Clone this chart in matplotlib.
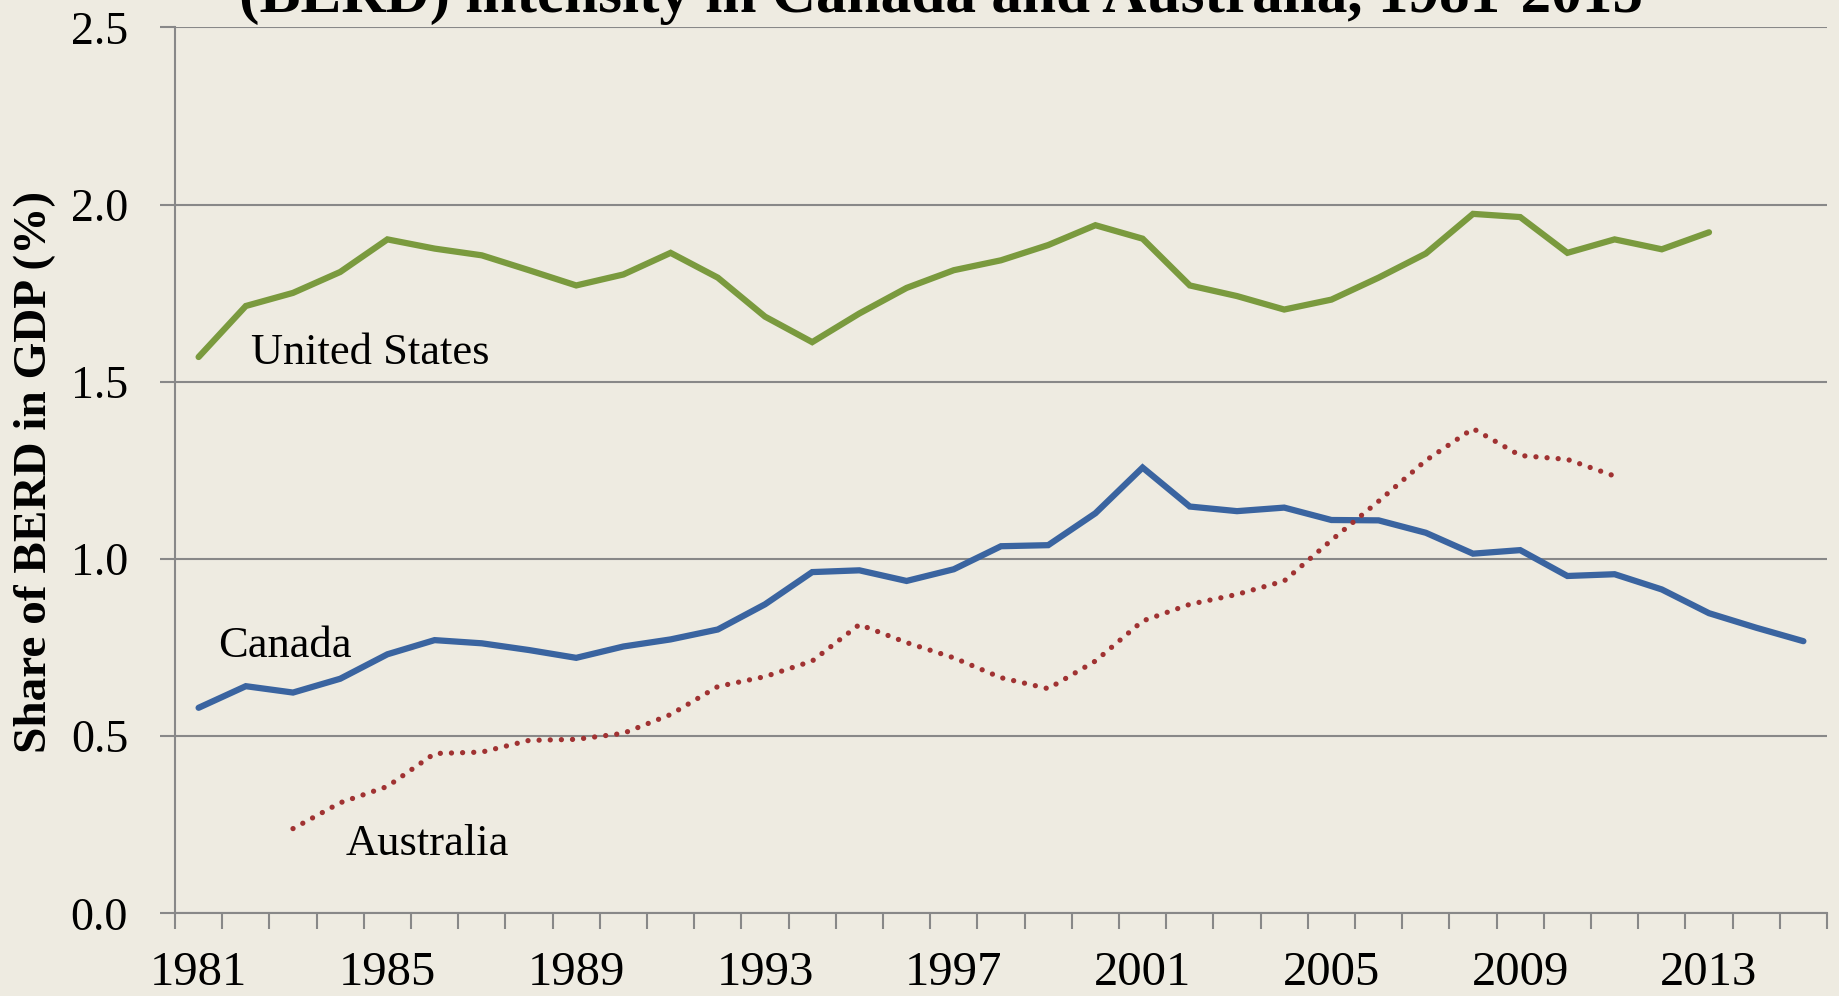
import numpy as np
import matplotlib
matplotlib.use("Agg")
import matplotlib.pyplot as plt
from matplotlib.ticker import FixedLocator, NullFormatter, FixedFormatter

# ---------------- data ----------------
years = list(range(1981, 2016))
nan = np.nan
us = [1.570, 1.714, 1.751, 1.810, 1.902, 1.876, 1.857, 1.815, 1.772, 1.803,
      1.864, 1.794, 1.684, 1.612, 1.693, 1.765, 1.815, 1.843, 1.886, 1.942,
      1.904, 1.772, 1.742, 1.704, 1.732, 1.794, 1.862, 1.974, 1.965, 1.864,
      1.902, 1.874, 1.922, nan, nan]
canada = [0.580, 0.641, 0.623, 0.662, 0.731, 0.771, 0.762, 0.743, 0.721, 0.753,
          0.773, 0.801, 0.872, 0.963, 0.968, 0.938, 0.971, 1.036, 1.039, 1.129,
          1.258, 1.148, 1.135, 1.145, 1.110, 1.109, 1.074, 1.015, 1.025, 0.952,
          0.957, 0.914, 0.847, 0.806, 0.768]
australia = [nan, nan, 0.239, 0.312, 0.358, 0.451, 0.455, 0.488, 0.491, 0.508,
             0.561, 0.640, 0.668, 0.712, 0.815, 0.764, 0.721, 0.665, 0.634, 0.712,
             0.825, 0.872, 0.900, 0.938, 1.053, 1.163, 1.278, 1.368, 1.292, 1.281,
             1.234, nan, nan, nan, nan]
label_years = list(range(1981, 2014, 4))
y_ticks = [0.0, 0.5, 1.0, 1.5, 2.0, 2.5]
title_text = "(BERD) intensity in Canada and Australia, 1981-2015"
ylabel_text = "Share of BERD in GDP (%)"

# ---------------- style ----------------
BG = "#EEEBE1"
GRID = "#888888"
C_US = "#7A9A3E"
C_CA = "#3A64A0"
C_AU = "#A03232"
SERIF = ["Liberation Serif", "DejaVu Serif"]

W, H, DPI = 1840, 996, 100
fig = plt.figure(figsize=(W / DPI, H / DPI), dpi=DPI, facecolor=BG)
ax = fig.add_axes([175 / W, 1 - 913.3 / H, 1652 / W, (913.3 - 27.5) / H])
ax.set_facecolor(BG)

ax.plot(years, us, color=C_US, lw=4.5, solid_capstyle="round", solid_joinstyle="miter", zorder=3)
ax.plot(years, canada, color=C_CA, lw=4.5, solid_capstyle="round", solid_joinstyle="miter", zorder=3)
ax.plot(years, australia, color=C_AU, lw=3.8, linestyle=(0, (0.01, 2.1)),
        dash_capstyle="round", zorder=3)

ax.set_xlim(1980.5, 2015.5)
ax.set_ylim(0, 2.5)

# y axis
ax.yaxis.set_major_locator(FixedLocator(y_ticks))
ax.set_yticklabels([f"{v:.1f}" for v in y_ticks])
ax.tick_params(axis="y", which="major", length=10.8, width=1.5, color=GRID,
               pad=23, labelsize=33, direction="out")
ax.grid(axis="y", color=GRID, lw=1.5, zorder=1)

# x axis: ticks at category boundaries, labels at centres
bounds = [y - 0.5 for y in years] + [years[-1] + 0.5]
ax.xaxis.set_major_locator(FixedLocator(bounds))
ax.xaxis.set_major_formatter(NullFormatter())
ax.xaxis.set_minor_locator(FixedLocator(label_years))
ax.xaxis.set_minor_formatter(FixedFormatter([str(y) for y in label_years]))
ax.tick_params(axis="x", which="major", length=11.3, width=1.5, color=GRID, direction="out")
ax.tick_params(axis="x", which="minor", length=0, pad=27, labelsize=35)

for lab in ax.get_xticklabels(minor=True) + ax.get_yticklabels():
    lab.set_family(SERIF)

for s in ["top", "right"]:
    ax.spines[s].set_visible(False)
for s in ["left", "bottom"]:
    ax.spines[s].set_color(GRID)
    ax.spines[s].set_linewidth(1.5)

# series labels
ax.text(1982.1, 1.549, "United States", fontsize=32, family=SERIF, va="baseline", ha="left")
ax.text(1981.42, 0.723, "Canada", fontsize=32, family=SERIF, va="baseline", ha="left")
ax.text(1984.12, 0.164, "Australia", fontsize=32, family=SERIF, va="baseline", ha="left")

# y label
fig.text(35 / W, 1 - 472 / H, ylabel_text, rotation=90, ha="center", va="center",
         fontsize=34, fontweight="bold", family=SERIF)

# title (top part cut off by figure edge as in the reference)
t = fig.text(941 / W, 1 - 12 / H, title_text, ha="center", va="baseline",
             fontsize=44, fontweight="bold", family=SERIF)
fig.canvas.draw()
wpx = t.get_window_extent().width
t.set_fontsize(44 * 1406 / wpx)

fig.savefig("out.png", dpi=DPI, facecolor=BG)
